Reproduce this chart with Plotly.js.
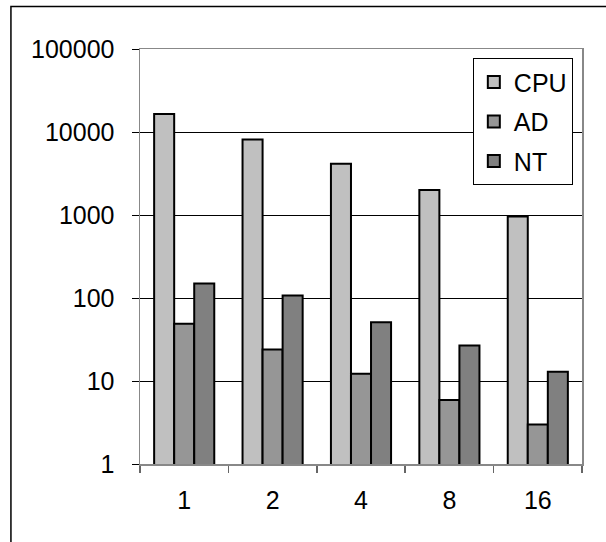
<!DOCTYPE html>
<html>
<head>
<meta charset="utf-8">
<script src="https://cdn.plot.ly/plotly-3.0.1.min.js"></script>
<style>html,body{margin:0;padding:0;background:#fff;}#chart{width:606px;height:542px;}</style>
</head>
<body>
<div id="chart"></div>
<script>
const categories = ['1', '2', '4', '8', '16'];
const cpuValues = [16500, 8100, 4150, 2000, 960];
const adValues = [49, 24, 12.2, 5.9, 3.0];
const ntValues = [150, 107, 51, 26.7, 12.9];
const yTickVals = [1, 10, 100, 1000, 10000, 100000];
const yTickText = ['1', '10', '100', '1000', '10000', '100000'];

const font = {family: '"Liberation Sans", Arial, sans-serif', size: 25, color: '#000'};
function bar(name, y, color) {
  return {type: 'bar', name: name, x: categories, y: y, legendgroup: name,
    marker: {color: color, line: {color: '#000', width: 2}}};
}
const data = [bar('CPU', cpuValues, '#c0c0c0'), bar('AD', adValues, '#969696'), bar('NT', ntValues, '#808080')];
const layout = {
  width: 606, height: 542,
  margin: {l: 140, r: 24, t: 49, b: 78},
  paper_bgcolor: '#fff', plot_bgcolor: '#fff',
  font: font,
  barmode: 'group', bargap: 0.32, bargroupgap: 0,
  showlegend: true,
  legend: {x: 0.753, y: 0.978, xanchor: 'left', yanchor: 'top', bgcolor: '#fff',
    bordercolor: '#000', borderwidth: 1, font: font, tracegroupgap: 4, traceorder: 'grouped', itemwidth: 30},
  xaxis: {type: 'category', showline: true, linecolor: '#888', linewidth: 1.5, mirror: true,
    ticks: 'outside', tickson: 'boundaries', ticklen: 7, tickcolor: '#666', tickwidth: 1.5,
    showgrid: false, tickfont: font, ticklabelstandoff: 13},
  yaxis: {type: 'log', range: [0, 5], tickvals: yTickVals, ticktext: yTickText,
    showline: true, linecolor: '#888', linewidth: 1.5, mirror: true,
    ticks: 'outside', ticklen: 7, tickcolor: '#000', tickwidth: 1,
    showgrid: true, gridcolor: '#000', gridwidth: 1, tickfont: font, ticklabelstandoff: 12},
  shapes: [{type: 'rect', xref: 'paper', yref: 'paper', x0: -0.292, x1: 1.3, y0: -0.5, y1: 1.1024,
    line: {color: '#000', width: 1.5}, fillcolor: 'rgba(0,0,0,0)', layer: 'below'}]
};
Plotly.newPlot('chart', data, layout, {displayModeBar: false, staticPlot: true});
</script>
</body>
</html>
